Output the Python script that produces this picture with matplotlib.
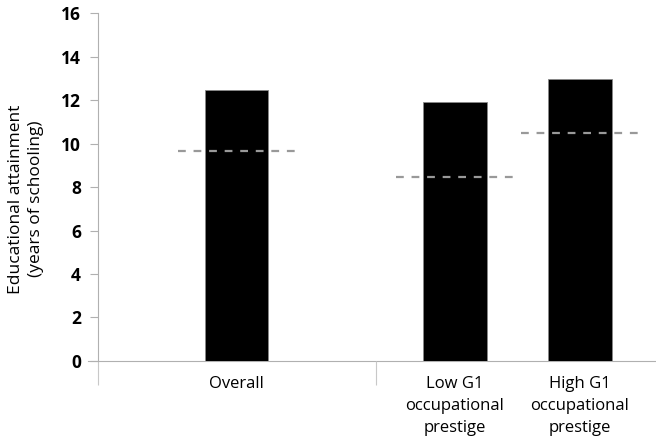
import matplotlib.pyplot as plt
from matplotlib.ticker import FixedLocator

categories = ['Overall', 'Low G1\noccupational\nprestige', 'High G1\noccupational\nprestige']
attainment = [12.45, 11.9, 13.0]
reference_level = [9.65, 8.45, 10.5]

# layout (x in axis units, 1 unit ~ one category slot)
xpos = [1.11, 2.856, 3.856]
group_edges = [0, 2.224]
xmax = 4.464

plt.rcParams['font.family'] = ['Open Sans', 'DejaVu Sans']

fig = plt.figure(figsize=(6.56, 4.45), dpi=100)
ax = fig.add_axes([0.149, 0.189, 0.851, 0.781])

ax.bar(xpos, attainment, width=0.51, color='black', edgecolor='#888888', linewidth=0.6, zorder=2)
for x, v in zip(xpos, reference_level):
    ax.plot([x - 0.47, x + 0.47], [v, v], color='#999999', lw=1.6,
            dashes=(3.5, 3.5), zorder=3, solid_capstyle='butt')

ax.set_xlim(0, xmax)
ax.set_ylim(0, 16)
ax.set_yticks(range(0, 17, 2))
ax.tick_params(axis='y', direction='out', length=6, width=0.8, color='#b0b0b0',
               pad=6, labelsize=12.5)
for t in ax.get_yticklabels():
    t.set_fontweight('bold')

ax.xaxis.set_major_locator(FixedLocator(group_edges))
ax.xaxis.set_minor_locator(FixedLocator(xpos))
ax.set_xticklabels([])
ax.set_xticklabels(categories, minor=True, linespacing=1.5)
ax.tick_params(axis='x', which='major', direction='out', length=17, width=0.8, color='#c8c8c8')
ax.tick_params(axis='x', which='minor', length=0, pad=11, labelsize=12)

for s in ['top', 'right']:
    ax.spines[s].set_visible(False)
ax.spines['bottom'].set_visible(False)
ax.spines['left'].set_color('#b0b0b0')
ax.spines['left'].set_linewidth(0.8)
ax.spines['left'].set_bounds(0, 16)
ax.axhline(0, xmin=-0.018, xmax=1, color='#b0b0b0', lw=0.8, clip_on=False, zorder=1)

fig.text(0.04, 1 - 199 / 445, 'Educational attainment\n(years of schooling)',
         rotation=90, ha='center', va='center', fontsize=12.5, linespacing=1.3)

fig.savefig('out.png', dpi=100)
